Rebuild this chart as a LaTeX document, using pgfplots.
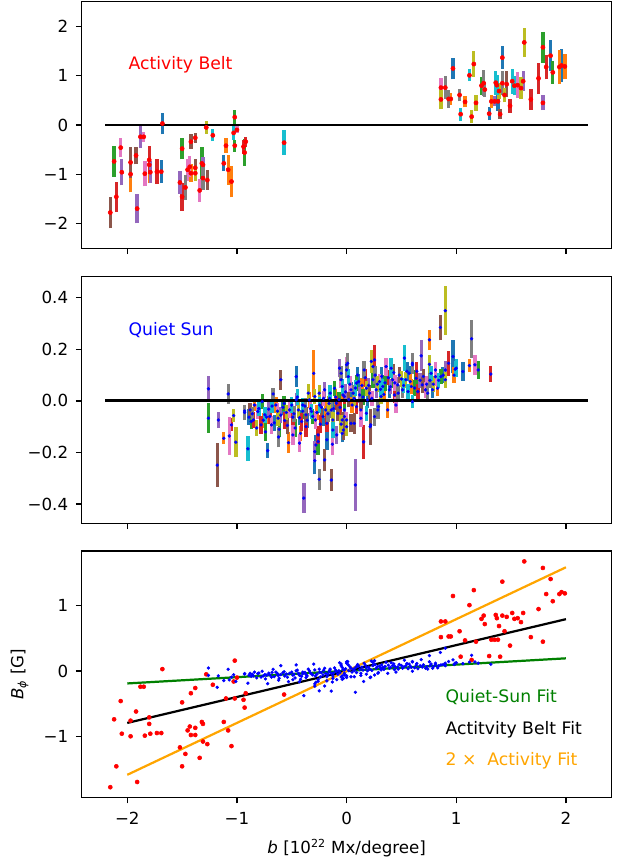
\documentclass[border=0pt]{standalone}
\usepackage{pgfplots}
\pgfplotsset{compat=1.18}
\usepackage{pgfplotstable}
\usepackage{fontspec}
\setmainfont{DejaVu Sans}

% matplotlib tab10 cycle
\definecolor{tab0}{HTML}{1F77B4}
\definecolor{tab1}{HTML}{FF7F0E}
\definecolor{tab2}{HTML}{2CA02C}
\definecolor{tab3}{HTML}{D62728}
\definecolor{tab4}{HTML}{9467BD}
\definecolor{tab5}{HTML}{8C564B}
\definecolor{tab6}{HTML}{E377C2}
\definecolor{tab7}{HTML}{7F7F7F}
\definecolor{tab8}{HTML}{BCBD22}
\definecolor{tab9}{HTML}{17BECF}
\definecolor{mplred}{HTML}{FF0000}
\definecolor{mplblue}{HTML}{0000FF}
\definecolor{mplgreen}{HTML}{008000}
\definecolor{mplorange}{HTML}{FFA500}

% activity belt: b, B_phi, error, colour index
\pgfplotstableread{
b B e c
-2.155 -1.78 0.32 5
-2.12 -0.74 0.31 2
-2.10 -1.46 0.31 3
-2.06 -0.46 0.20 6
-2.05 -0.96 0.27 4
-1.97 -0.76 0.31 5
-1.97 -1.00 0.37 1
-1.92 -0.62 0.18 5
-1.91 -1.70 0.30 4
-1.88 -0.24 0.23 4
-1.85 -0.24 0.10 6
-1.84 -0.99 0.26 6
-1.80 -0.81 0.37 1
-1.80 -0.71 0.29 3
-1.79 -0.96 0.22 4
-1.73 -0.95 0.25 3
-1.69 -0.95 0.23 0
-1.68 0.03 0.22 0
-1.52 -1.17 0.23 4
-1.50 -0.48 0.22 2
-1.50 -1.46 0.28 3
-1.47 -1.27 0.26 7
-1.45 -0.91 0.22 6
-1.43 -0.85 0.21 6
-1.42 -0.34 0.15 5
-1.42 -0.98 0.18 1
-1.38 -0.98 0.15 8
-1.38 -0.26 0.10 5
-1.38 -0.87 0.18 5
-1.34 -1.33 0.23 6
-1.32 -0.78 0.33 2
-1.31 -1.08 0.25 7
-1.31 -0.81 0.15 4
-1.27 -1.12 0.20 5
-1.28 -0.05 0.13 8
-1.22 -0.21 0.12 9
-1.12 -0.78 0.16 0
-1.10 -0.42 0.15 1
-1.08 -0.91 0.30 1
-1.05 -1.15 0.32 1
-1.03 -0.16 0.14 9
-1.02 0.16 0.14 2
-1.02 -0.42 0.12 2
-1.00 -0.10 0.07 6
-0.94 -0.44 0.14 3
-0.93 -0.56 0.27 2
-0.92 -0.34 0.10 3
-0.57 -0.36 0.25 9
0.86 0.76 0.19 6
0.86 0.52 0.20 8
0.90 0.76 0.23 7
0.93 0.53 0.18 7
0.95 0.53 0.13 1
0.97 1.15 0.22 0
1.03 0.61 0.13 7
1.04 0.22 0.13 9
1.08 0.47 0.11 1
1.12 1.01 0.12 9
1.14 0.17 0.13 8
1.16 1.24 0.26 8
1.18 0.45 0.17 8
1.23 0.80 0.18 2
1.25 0.85 0.26 7
1.26 0.72 0.15 7
1.30 0.23 0.13 0
1.32 0.48 0.13 1
1.35 0.48 0.10 4
1.36 0.86 0.24 9
1.37 0.81 0.20 9
1.38 0.48 0.20 0
1.39 0.69 0.17 8
1.40 0.22 0.10 5
1.42 1.37 0.23 0
1.42 0.85 0.25 7
1.44 0.61 0.15 8
1.46 0.83 0.26 5
1.49 0.39 0.14 3
1.51 0.89 0.25 9
1.53 0.80 0.20 9
1.56 0.81 0.27 6
1.59 0.75 0.22 8
1.61 0.89 0.20 4
1.62 1.68 0.29 8
1.68 0.52 0.21 3
1.75 0.95 0.32 3
1.79 1.58 0.31 2
1.79 0.45 0.15 4
1.82 1.18 0.25 3
1.86 1.41 0.31 0
1.88 1.07 0.23 2
1.94 1.18 0.35 1
1.96 1.21 0.33 0
1.99 1.19 0.26 1
}\activity

% quiet sun: b, B_phi, error, colour index
\pgfplotstableread{
b B e c
-1.26 0.047 0.048 4
-1.26 -0.067 0.057 2
-1.18 -0.249 0.084 5
-1.17 -0.074 0.032 4
-1.12 -0.145 0.023 1
-1.08 0.027 0.038 7
-1.07 -0.136 0.073 6
-1.05 -0.093 0.025 3
-1.03 -0.057 0.025 8
-1.01 -0.160 0.058 8
-0.93 -0.045 0.030 7
-0.93 -0.039 0.025 5
-0.90 -0.186 0.048 9
-0.89 -0.063 0.030 0
-0.88 -0.035 0.028 5
-0.87 -0.080 0.030 2
-0.86 -0.050 0.025 7
-0.85 -0.074 0.030 3
-0.84 -0.016 0.025 1
-0.82 -0.105 0.030 8
-0.81 -0.041 0.030 6
-0.80 -0.030 0.028 9
-0.78 -0.093 0.035 3
-0.77 -0.003 0.028 2
-0.76 -0.075 0.030 1
-0.745 -0.054 0.030 9
-0.74 -0.120 0.035 2
-0.73 -0.063 0.025 1
-0.72 -0.193 0.028 0
-0.71 -0.032 0.030 4
-0.70 -0.060 0.030 3
-0.685 -0.093 0.035 6
-0.68 -0.020 0.028 9
-0.67 0.027 0.025 7
-0.66 -0.085 0.030 0
-0.645 -0.016 0.030 1
-0.63 -0.040 0.030 6
-0.625 -0.067 0.030 8
-0.62 -0.140 0.040 7
-0.615 -0.110 0.030 2
-0.60 0.082 0.039 5
-0.60 -0.055 0.030 4
-0.58 -0.025 0.028 0
-0.57 -0.010 0.030 2
-0.565 -0.076 0.032 3
-0.55 -0.045 0.030 8
-0.54 -0.095 0.035 5
-0.53 -0.162 0.040 1
-0.52 -0.035 0.030 6
-0.50 -0.016 0.030 9
-0.49 -0.063 0.035 3
-0.49 -0.132 0.040 6
-0.48 -0.050 0.030 7
-0.47 -0.105 0.035 2
-0.46 0.094 0.040 0
-0.46 0.004 0.025 4
-0.45 0.015 0.030 9
-0.44 -0.035 0.030 8
-0.43 -0.164 0.035 6
-0.43 -0.065 0.030 0
-0.42 -0.126 0.030 1
-0.41 -0.080 0.035 3
-0.40 -0.016 0.028 9
-0.40 -0.040 0.030 2
-0.39 -0.377 0.057 4
-0.38 -0.020 0.030 7
-0.37 -0.054 0.030 5
-0.37 -0.100 0.040 3
-0.36 -0.075 0.030 0
-0.35 0.030 0.035 8
-0.34 0.004 0.030 1
-0.33 -0.030 0.030 6
-0.32 -0.041 0.030 9
-0.31 -0.060 0.030 2
-0.30 0.107 0.090 1
-0.29 0.017 0.030 8
-0.29 -0.232 0.053 0
-0.29 -0.197 0.040 4
-0.285 -0.074 0.035 6
-0.28 -0.171 0.040 0
-0.27 -0.045 0.030 1
-0.26 -0.158 0.050 2
-0.26 -0.132 0.035 3
-0.25 -0.304 0.040 7
-0.25 0.030 0.030 8
-0.245 -0.016 0.030 9
-0.24 -0.090 0.035 3
-0.23 -0.025 0.030 5
-0.215 -0.061 0.035 0
-0.21 0.010 0.030 6
-0.20 0.043 0.030 4
-0.20 -0.229 0.044 5
-0.19 -0.035 0.030 1
-0.18 -0.087 0.035 3
-0.18 -0.151 0.040 0
-0.17 -0.050 0.030 7
-0.16 -0.010 0.030 8
-0.155 0.010 0.030 6
-0.15 0.030 0.030 9
-0.14 -0.307 0.041 5
-0.14 -0.035 0.030 7
-0.13 -0.168 0.040 6
-0.125 -0.074 0.030 8
-0.125 -0.113 0.030 9
-0.12 -0.030 0.030 0
-0.11 0.049 0.030 2
-0.10 0.015 0.030 1
-0.094 -0.009 0.028 3
-0.09 -0.132 0.035 4
-0.08 -0.048 0.030 5
-0.07 0.005 0.030 2
-0.064 0.127 0.035 4
-0.06 -0.025 0.030 3
-0.05 0.082 0.030 6
-0.05 0.107 0.030 7
-0.05 -0.090 0.035 8
-0.04 0.056 0.030 9
-0.04 -0.074 0.030 5
-0.04 -0.126 0.035 0
-0.033 0.023 0.028 1
-0.03 -0.113 0.040 5
-0.02 -0.035 0.030 2
-0.02 0.017 0.028 3
-0.02 -0.061 0.030 4
-0.01 0.035 0.030 4
0.00 -0.074 0.030 6
0.00 0.120 0.030 7
0.00 0.140 0.030 6
0.00 -0.100 0.035 8
0.01 0.146 0.040 7
0.015 0.094 0.030 9
0.02 0.005 0.030 5
0.03 0.065 0.030 6
0.04 0.043 0.030 0
0.04 -0.087 0.035 5
0.05 -0.016 0.030 1
0.06 0.030 0.030 7
0.07 -0.087 0.040 5
0.07 0.010 0.030 8
0.08 -0.326 0.100 4
0.08 0.050 0.030 9
0.09 0.069 0.030 2
0.09 -0.022 0.030 3
0.10 0.100 0.030 0
0.11 0.075 0.030 0
0.12 0.023 0.030 4
0.13 -0.035 0.030 5
0.13 -0.067 0.035 6
0.14 0.060 0.030 1
0.15 0.015 0.030 2
0.155 -0.159 0.067 3
0.16 0.120 0.035 7
0.17 0.090 0.035 3
0.18 0.049 0.030 8
0.18 -0.048 0.030 9
0.19 0.004 0.030 0
0.20 0.060 0.030 4
0.21 0.030 0.030 5
0.215 -0.100 0.070 5
0.22 -0.093 0.035 1
0.225 0.153 0.045 8
0.23 0.010 0.030 6
0.24 0.082 0.030 2
0.24 0.133 0.040 1
0.255 0.159 0.058 3
0.255 -0.061 0.035 7
0.26 0.100 0.035 7
0.27 0.043 0.030 4
0.28 0.065 0.030 8
0.285 -0.035 0.035 7
0.29 -0.022 0.030 5
0.30 0.075 0.030 6
0.31 0.045 0.030 9
0.315 0.017 0.030 8
0.32 0.095 0.035 0
0.33 0.056 0.030 9
0.34 0.025 0.030 1
0.35 0.070 0.030 2
0.36 0.133 0.035 6
0.375 -0.035 0.030 1
0.38 0.090 0.030 3
0.39 0.043 0.030 0
0.40 0.055 0.030 4
0.406 0.127 0.040 9
0.42 0.082 0.030 2
0.43 0.110 0.035 5
0.436 0.023 0.030 3
0.44 0.070 0.030 6
0.45 -0.016 0.030 6
0.466 0.062 0.030 4
0.47 0.030 0.030 7
0.48 0.100 0.030 5
0.50 0.085 0.030 8
0.51 0.043 0.030 7
0.52 0.060 0.030 9
0.527 0.166 0.050 9
0.54 0.082 0.030 8
0.55 0.115 0.035 0
0.56 0.036 0.030 9
0.57 0.107 0.030 0
0.58 0.075 0.030 1
0.59 0.056 0.030 1
0.60 0.146 0.040 7
0.60 0.140 0.035 0
0.60 -0.003 0.025 9
0.62 0.050 0.030 2
0.634 0.088 0.030 2
0.64 0.115 0.035 3
0.65 0.036 0.030 3
0.67 0.080 0.030 4
0.68 0.175 0.060 4
0.69 0.062 0.030 5
0.70 0.095 0.030 5
0.72 0.043 0.030 6
0.73 0.065 0.030 6
0.74 0.030 0.030 7
0.755 0.237 0.040 1
0.755 0.142 0.035 8
0.76 0.080 0.030 7
0.77 0.107 0.030 9
0.785 0.043 0.030 0
0.79 0.065 0.030 8
0.81 0.094 0.035 6
0.81 0.120 0.030 6
0.83 0.049 0.030 1
0.84 0.080 0.030 9
0.855 0.285 0.050 5
0.86 0.094 0.030 2
0.88 0.100 0.030 0
0.90 0.350 0.095 8
0.90 0.120 0.035 4
0.90 0.082 0.030 8
0.93 0.146 0.048 3
0.97 0.172 0.065 0
0.98 0.100 0.030 1
0.99 0.123 0.030 9
1.00 0.127 0.035 9
1.06 0.114 0.035 0
1.12 0.137 0.025 1
1.14 0.241 0.073 7
1.17 0.140 0.040 6
1.20 0.120 0.035 2
1.315 0.104 0.030 3
}\quiet

% one colour of error bars (B - e to B + e) as vertical quiver segments
\newcommand{\bars}[3]{%
  \addplot[draw=tab#2, line width=#3, -, mark=none,
    restrict expr to domain={\thisrow{c}}{#2:#2},
    quiver={u=0, v=2*\thisrow{e}}]
    table[x=b, y expr=\thisrow{B}-\thisrow{e}] {#1};}

\pgfplotsset{
  panel/.style={
    scale only axis, width=381.6pt, height=177.6pt,
    anchor=north west,
    xmin=-2.416, xmax=2.417,
    axis line style={line width=0.95pt},
    tick align=outside, tick pos=left,
    major tick length=4.2pt,
    every tick/.style={line width=0.95pt, black},
    xtick={-2,-1,0,1,2},
    ticklabel style={font=\fontsize{12}{14}\selectfont},
    label style={font=\fontsize{12}{14}\selectfont},
    xticklabel shift=3pt, yticklabel shift=2pt,
    xlabel shift=3pt, ylabel shift=4pt,
    clip=false,
  },
}

\begin{document}
\begin{tikzpicture}
\useasboundingbox (0,0) rectangle (452.16pt,-617.76pt);

% top: activity belt
\begin{axis}[panel, at={(58.8pt,-1.2pt)},
  ymin=-2.508, ymax=2.508,
  ytick={-2,-1,0,1,2}, yticklabels={−2,−1,0,1,2},
  xticklabels={}]
\pgfplotsinvokeforeach{0,...,9}{\bars{\activity}{#1}{2.4pt}}
\addplot[black, line width=2.1pt] coordinates {(-2.2,0) (2.2,0)};
\addplot[only marks, mark=*, mark size=1.5pt, color=mplred] table[x=b, y=B] {\activity};
\node[anchor=west, inner sep=0pt, text=mplred, font=\fontsize{12.4}{14}\selectfont]
  at (axis cs:-1.99,1.22) {Activity Belt};
\end{axis}

% middle: quiet sun
\begin{axis}[panel, at={(58.8pt,-199.2pt)},
  ymin=-0.475, ymax=0.482,
  ytick={-0.4,-0.2,0,0.2,0.4}, yticklabels={−0.4,−0.2,0.0,0.2,0.4},
  xticklabels={}]
\pgfplotsinvokeforeach{0,...,9}{\bars{\quiet}{#1}{2.4pt}}
\addplot[black, line width=2.1pt] coordinates {(-2.2,0) (2.2,0)};
\addplot[only marks, mark=*, mark size=1.0pt, color=mplblue] table[x=b, y=B] {\quiet};
\node[anchor=west, inner sep=0pt, text=mplblue, font=\fontsize{12.4}{14}\selectfont]
  at (axis cs:-1.99,0.276) {Quiet Sun};
\end{axis}

% bottom: scatter with fits
\begin{axis}[panel, at={(58.8pt,-396.7pt)},
  ymin=-1.94, ymax=1.84,
  ytick={-1,0,1}, yticklabels={−1,0,1},
  xticklabels={−2,−1,0,1,2},
  xlabel={\textit{b} [10\textsuperscript{22} Mx/degree]},
  ylabel={\textit{B}\textsubscript{\textit{ϕ}} [G]}]
\addplot[mplgreen, line width=1.6pt] coordinates {(-2,-0.19) (2,0.195)};
\addplot[black, line width=1.6pt] coordinates {(-2,-0.795) (2,0.795)};
\addplot[mplorange, line width=1.6pt] coordinates {(-2,-1.59) (2,1.59)};
\addplot[only marks, mark=*, mark size=1.45pt, color=mplred] table[x=b, y=B] {\activity};
\addplot[only marks, mark=*, mark size=1.0pt, color=mplblue] table[x=b, y=B] {\quiet};
\node[anchor=west, inner sep=0pt, text=mplgreen, font=\fontsize{12.4}{14}\selectfont]
  at (axis cs:0.9,-0.395) {Quiet-Sun Fit};
\node[anchor=west, inner sep=0pt, text=black, font=\fontsize{12.4}{14}\selectfont]
  at (axis cs:0.9,-0.897) {Actitvity Belt Fit};
\node[anchor=west, inner sep=0pt, text=mplorange, font=\fontsize{12.4}{14}\selectfont]
  at (axis cs:0.9,-1.38) {2 ×\ \ Activity Fit};
\end{axis}
\end{tikzpicture}
\end{document}
